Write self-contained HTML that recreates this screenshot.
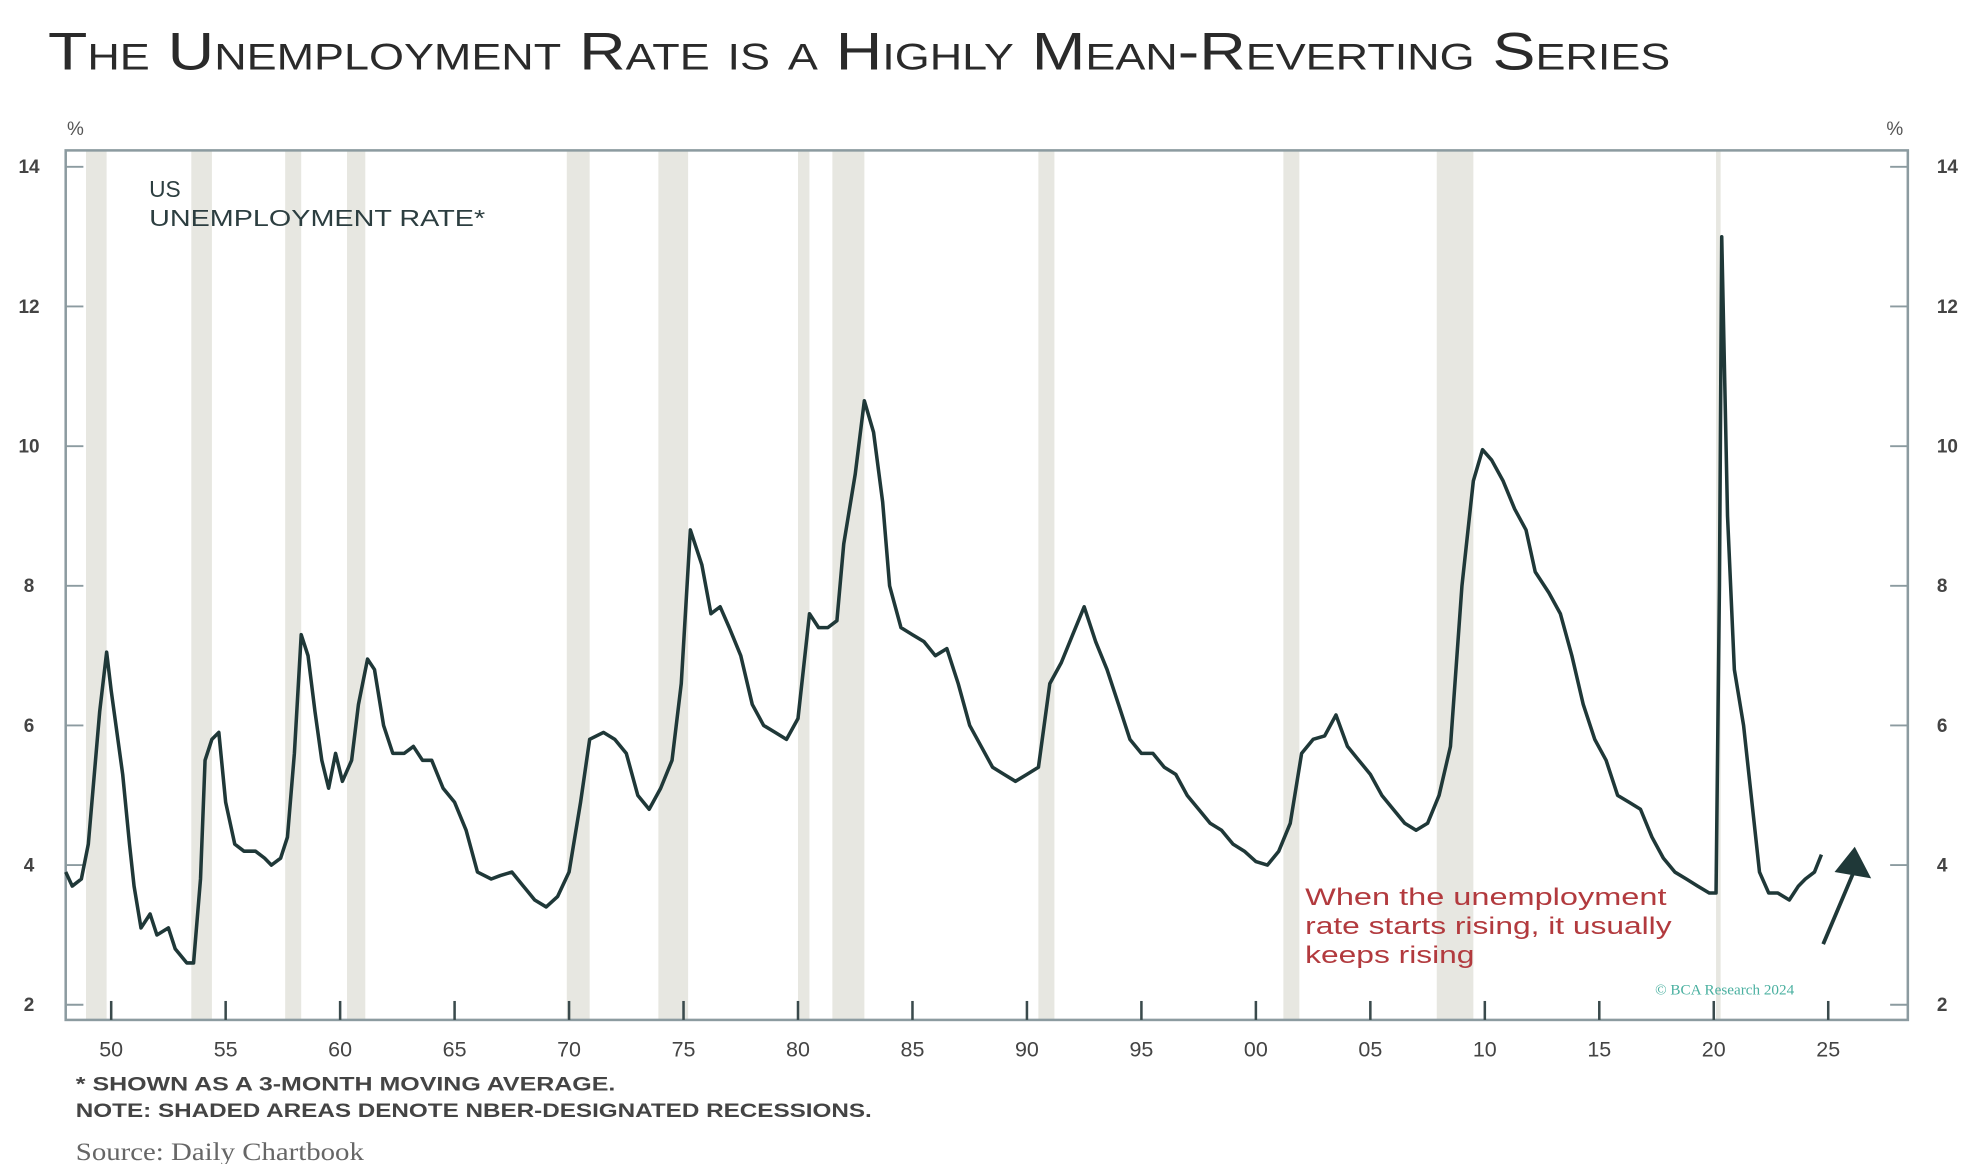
<!DOCTYPE html>
<html><head><meta charset="utf-8">
<style>
html,body{margin:0;padding:0;background:#fff;}
svg{display:block;}
text{font-family:"Liberation Sans","DejaVu Sans",sans-serif;}
</style></head>
<body>
<svg id="chart" width="1971" height="1164" viewBox="0 0 1560 921" preserveAspectRatio="none" xmlns="http://www.w3.org/2000/svg">
  <text x="38" y="55" font-size="42" fill="#2a2a2a" textLength="1284" lengthAdjust="spacingAndGlyphs" style="font-variant:small-caps;font-family:'Liberation Sans',sans-serif;font-weight:normal">The Unemployment Rate is a Highly Mean-Reverting Series</text>
  <g id="recessions"></g>
  <rect x="52" y="119" width="1458" height="688" fill="none" stroke="#8c9ba0" stroke-width="2"/>
  <g id="axes"></g>
  <path id="series" fill="none" stroke="#1f3838" stroke-width="2.8" stroke-linejoin="round"/>
  <text x="118" y="156" font-size="18" fill="#2c3e40">US</text>
  <text x="118" y="179" font-size="18" fill="#2c3e40" textLength="266" lengthAdjust="spacingAndGlyphs">UNEMPLOYMENT RATE*</text>
  <g fill="#b23a3e" font-size="19">
    <text x="1033" y="716" textLength="286" lengthAdjust="spacingAndGlyphs">When the unemployment</text>
    <text x="1033" y="739" textLength="290" lengthAdjust="spacingAndGlyphs">rate starts rising, it usually</text>
    <text x="1033" y="762" textLength="134" lengthAdjust="spacingAndGlyphs">keeps rising</text>
  </g>
  <line x1="1443" y1="747" x2="1468" y2="688" stroke="#1f3838" stroke-width="3"/>
  <polygon points="1468,670 1481,695 1452,690" fill="#1f3838"/>
  <text x="1310" y="787" font-size="12" fill="#4ab0a0" style="font-family:'Liberation Serif',serif">© BCA Research 2024</text>
  <text x="60" y="863" font-size="15" font-weight="bold" fill="#444" textLength="427" lengthAdjust="spacingAndGlyphs">* SHOWN AS A 3-MONTH MOVING AVERAGE.</text>
  <text x="60" y="884" font-size="15" font-weight="bold" fill="#444" textLength="630" lengthAdjust="spacingAndGlyphs">NOTE: SHADED AREAS DENOTE NBER-DESIGNATED RECESSIONS.</text>
  <text x="60" y="918" font-size="20" fill="#666" style="font-family:'Liberation Serif',serif" textLength="228" lengthAdjust="spacingAndGlyphs">Source: Daily Chartbook</text>
  <text x="53" y="107" font-size="15" fill="#555">%</text>
  <text x="1493" y="107" font-size="15" fill="#555">%</text>
</svg>
<script>
const years = [1948.0,1948.3,1948.7,1949.0,1949.5,1949.8,1950.0,1950.5,1950.8,1951.0,1951.3,1951.7,1952.0,1952.5,1952.8,1953.3,1953.6,1953.9,1954.1,1954.4,1954.7,1955.0,1955.4,1955.8,1956.3,1956.7,1957.0,1957.4,1957.7,1958.0,1958.3,1958.6,1958.9,1959.2,1959.5,1959.8,1960.1,1960.5,1960.8,1961.2,1961.5,1961.9,1962.3,1962.8,1963.2,1963.6,1964.0,1964.5,1965.0,1965.5,1966.0,1966.6,1967.0,1967.5,1968.0,1968.5,1969.0,1969.5,1970.0,1970.5,1970.9,1971.5,1972.0,1972.5,1973.0,1973.5,1974.0,1974.5,1974.9,1975.3,1975.8,1976.2,1976.6,1977.0,1977.5,1978.0,1978.5,1979.0,1979.5,1980.0,1980.5,1980.9,1981.3,1981.7,1982.0,1982.5,1982.9,1983.3,1983.7,1984.0,1984.5,1985.0,1985.5,1986.0,1986.5,1987.0,1987.5,1988.0,1988.5,1989.0,1989.5,1990.0,1990.5,1991.0,1991.5,1992.0,1992.5,1993.0,1993.5,1994.0,1994.5,1995.0,1995.5,1996.0,1996.5,1997.0,1997.5,1998.0,1998.5,1999.0,1999.5,2000.0,2000.5,2001.0,2001.5,2002.0,2002.5,2003.0,2003.5,2004.0,2004.5,2005.0,2005.5,2006.0,2006.5,2007.0,2007.5,2008.0,2008.5,2009.0,2009.5,2009.9,2010.3,2010.8,2011.3,2011.8,2012.2,2012.8,2013.3,2013.8,2014.3,2014.8,2015.3,2015.8,2016.3,2016.8,2017.3,2017.8,2018.3,2018.8,2019.3,2019.8,2020.1,2020.25,2020.35,2020.6,2020.9,2021.3,2021.7,2022.0,2022.4,2022.8,2023.3,2023.7,2024.0,2024.4,2024.7];
const rates = [3.9,3.7,3.8,4.3,6.2,7.05,6.5,5.3,4.3,3.7,3.1,3.3,3.0,3.1,2.8,2.6,2.6,3.8,5.5,5.8,5.9,4.9,4.3,4.2,4.2,4.1,4.0,4.1,4.4,5.6,7.3,7.0,6.2,5.5,5.1,5.6,5.2,5.5,6.3,6.95,6.8,6.0,5.6,5.6,5.7,5.5,5.5,5.1,4.9,4.5,3.9,3.8,3.85,3.9,3.7,3.5,3.4,3.55,3.9,4.9,5.8,5.9,5.8,5.6,5.0,4.8,5.1,5.5,6.6,8.8,8.3,7.6,7.7,7.4,7.0,6.3,6.0,5.9,5.8,6.1,7.6,7.4,7.4,7.5,8.6,9.6,10.65,10.2,9.2,8.0,7.4,7.3,7.2,7.0,7.1,6.6,6.0,5.7,5.4,5.3,5.2,5.3,5.4,6.6,6.9,7.3,7.7,7.2,6.8,6.3,5.8,5.6,5.6,5.4,5.3,5.0,4.8,4.6,4.5,4.3,4.2,4.05,4.0,4.2,4.6,5.6,5.8,5.85,6.15,5.7,5.5,5.3,5.0,4.8,4.6,4.5,4.6,5.0,5.7,8.0,9.5,9.95,9.8,9.5,9.1,8.8,8.2,7.9,7.6,7.0,6.3,5.8,5.5,5.0,4.9,4.8,4.4,4.1,3.9,3.8,3.7,3.6,3.6,8.0,13.0,9.0,6.8,6.0,4.8,3.9,3.6,3.6,3.5,3.7,3.8,3.9,4.15];
const recStart = [1948.9,1953.5,1957.6,1960.3,1969.9,1973.9,1980.0,1981.5,1990.5,2001.2,2007.9,2020.1];
const recEnd   = [1949.8,1954.4,1958.3,1961.1,1970.9,1975.2,1980.5,1982.9,1991.2,2001.9,2009.5,2020.3];
const yTicks = [2,4,6,8,10,12,14];
const xTickYears = [1950,1955,1960,1965,1970,1975,1980,1985,1990,1995,2000,2005,2010,2015,2020,2025];
const xTickLabels = ["50","55","60","65","70","75","80","85","90","95","00","05","10","15","20","25"];

const NS="http://www.w3.org/2000/svg";
const xs = yr => 88 + (yr-1950)*18.12;
const ys = v => 132 + (14-v)*55.25;
const X0=52, X1=1510, Y0=119, Y1=807;

const rg=document.getElementById('recessions');
recStart.forEach((s,i)=>{
  const r=document.createElementNS(NS,'rect');
  const a=Math.max(X0,xs(s)), b=xs(recEnd[i]);
  r.setAttribute('x',a);r.setAttribute('y',Y0);r.setAttribute('width',Math.max(2,b-a));r.setAttribute('height',Y1-Y0);
  r.setAttribute('fill','#e7e7e1');
  
  
  rg.appendChild(r);
});

const ax=document.getElementById('axes');
yTicks.forEach(v=>{
  const y=ys(v);
  [[X0,X0+14,23],[X1-14,X1,1533]].forEach(([a,b,tx],k)=>{
    const l=document.createElementNS(NS,'line');
    l.setAttribute('x1',a);l.setAttribute('x2',b);l.setAttribute('y1',y);l.setAttribute('y2',y);
    l.setAttribute('stroke','#8c9ba0');l.setAttribute('stroke-width','1.5');
    
    
    ax.appendChild(l);
    const t=document.createElementNS(NS,'text');
    t.setAttribute('x',tx);t.setAttribute('y',y+5);t.setAttribute('font-size','15');t.setAttribute('fill','#444');t.setAttribute('font-weight','bold');
    t.setAttribute('text-anchor', k===0?'middle':'start');
    t.textContent=v;
    
    
    ax.appendChild(t);
  });
});
xTickYears.forEach((yr,i)=>{
  const x=xs(yr);
  const l=document.createElementNS(NS,'line');
  l.setAttribute('x1',x);l.setAttribute('x2',x);l.setAttribute('y1',Y1);l.setAttribute('y2',Y1-15);
  l.setAttribute('stroke','#3a4a4c');l.setAttribute('stroke-width','2');
  
  
  ax.appendChild(l);
  const t=document.createElementNS(NS,'text');
  t.setAttribute('x',x);t.setAttribute('y',836);t.setAttribute('font-size','17');t.setAttribute('fill','#444');
  t.setAttribute('text-anchor','middle');
  t.textContent=xTickLabels[i];
  
  
  ax.appendChild(t);
});

let d='';
years.forEach((yr,i)=>{
  const x=Math.max(X0,xs(yr));
  d+=(i?'L':'M')+x.toFixed(1)+','+ys(rates[i]).toFixed(1);
});
document.getElementById('series').setAttribute('d',d);
</script>
</body></html>
